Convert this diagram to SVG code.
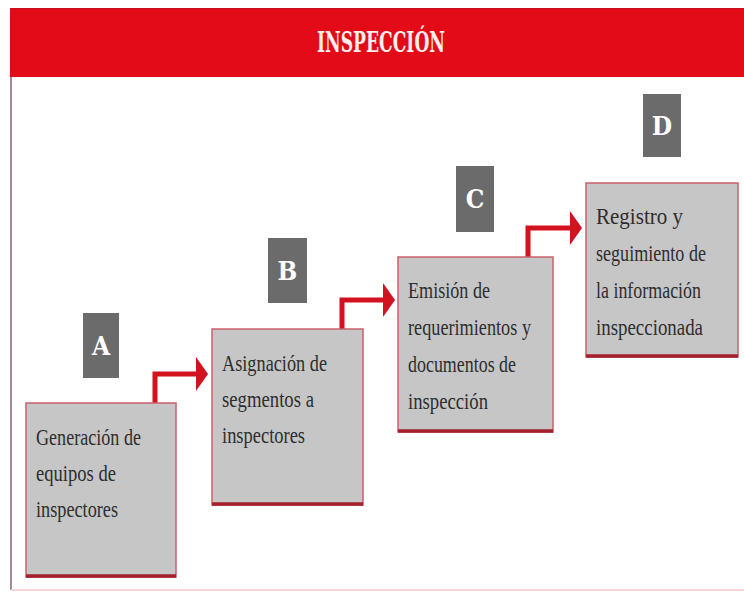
<svg xmlns="http://www.w3.org/2000/svg" width="744" height="594" viewBox="0 0 744 594">
<defs>
<style>
.box{fill:#c6c6c6;stroke:#c9606c;stroke-width:1.5}
.boxb{stroke:#a3202c;stroke-width:3.5}
.lab{fill:#6b6b6b}
.lt{font-family:"DejaVu Serif","Liberation Serif",serif;font-stretch:condensed;font-weight:bold;font-size:26px;fill:#ffffff;text-anchor:middle}
.tx{font-family:"Liberation Serif","DejaVu Serif",serif;font-size:23px;fill:#2e2e2e}
.con{fill:none;stroke:#d2121e;stroke-width:5}
.head{fill:#d2121e}
</style>
</defs>
<rect x="0" y="0" width="744" height="594" fill="#ffffff"/>
<g id="frame">
<rect x="10" y="8" width="734" height="69" fill="#e30b17"/>
<line x1="10" y1="8.5" x2="744" y2="8.5" stroke="#c8101c" stroke-width="1"/>
<line x1="11" y1="77" x2="11" y2="590" stroke="#a48a96" stroke-width="2"/>
<line x1="11" y1="590" x2="744" y2="590" stroke="#f3d6d6" stroke-width="2"/>
<text x="381" y="52" textLength="128" lengthAdjust="spacingAndGlyphs" font-family="'DejaVu Serif','Liberation Serif',serif" font-stretch="condensed" font-weight="bold" font-size="28" fill="#fbeef0" text-anchor="middle">INSPECCIÓN</text>
</g>
<g id="connectors">
<polyline class="con" points="155,403 155,374 198,374"/>
<polygon class="head" points="196,357 208,374 196,391"/>
<polyline class="con" points="342,329 342,300 385,300"/>
<polygon class="head" points="383,283 395,300 383,317"/>
<polyline class="con" points="528,257 528,228 572,228"/>
<polygon class="head" points="570,211 582,228 570,245"/>
</g>
<g id="nodeA">
<rect class="lab" x="83" y="313" width="36" height="65"/>
<text class="lt" x="101" y="355">A</text>
<rect class="box" x="26" y="403" width="150" height="174"/>
<line class="boxb" x1="26" y1="576" x2="176" y2="576"/>
<text class="tx" x="36" y="445" textLength="105" lengthAdjust="spacingAndGlyphs">Generación de</text>
<text class="tx" x="36" y="481" textLength="80" lengthAdjust="spacingAndGlyphs">equipos de</text>
<text class="tx" x="36" y="517" textLength="82" lengthAdjust="spacingAndGlyphs">inspectores</text>
</g>
<g id="nodeB">
<rect class="lab" x="268" y="238" width="39" height="65"/>
<text class="lt" x="287.5" y="280">B</text>
<rect class="box" x="212" y="329" width="151" height="176"/>
<line class="boxb" x1="212" y1="504" x2="363" y2="504"/>
<text class="tx" x="222" y="371" textLength="105" lengthAdjust="spacingAndGlyphs">Asignación de</text>
<text class="tx" x="222" y="407" textLength="92" lengthAdjust="spacingAndGlyphs">segmentos a</text>
<text class="tx" x="222" y="443" textLength="83" lengthAdjust="spacingAndGlyphs">inspectores</text>
</g>
<g id="nodeC">
<rect class="lab" x="456" y="166" width="38" height="66"/>
<text class="lt" x="475" y="208">C</text>
<rect class="box" x="398" y="257" width="155" height="175"/>
<line class="boxb" x1="398" y1="431" x2="553" y2="431"/>
<text class="tx" x="408" y="298" textLength="82" lengthAdjust="spacingAndGlyphs">Emisión de</text>
<text class="tx" x="408" y="335" textLength="123" lengthAdjust="spacingAndGlyphs">requerimientos y</text>
<text class="tx" x="408" y="372" textLength="108" lengthAdjust="spacingAndGlyphs">documentos de</text>
<text class="tx" x="408" y="409" textLength="80" lengthAdjust="spacingAndGlyphs">inspección</text>
</g>
<g id="nodeD">
<rect class="lab" x="643" y="94" width="38" height="63"/>
<text class="lt" x="662" y="135">D</text>
<rect class="box" x="586" y="183" width="152" height="174"/>
<line class="boxb" x1="586" y1="356" x2="738" y2="356"/>
<text class="tx" x="596" y="224" textLength="87" lengthAdjust="spacingAndGlyphs">Registro y</text>
<text class="tx" x="596" y="261" textLength="110" lengthAdjust="spacingAndGlyphs">seguimiento de</text>
<text class="tx" x="596" y="298" textLength="105" lengthAdjust="spacingAndGlyphs">la información</text>
<text class="tx" x="596" y="335" textLength="107" lengthAdjust="spacingAndGlyphs">inspeccionada</text>
</g>
</svg>
